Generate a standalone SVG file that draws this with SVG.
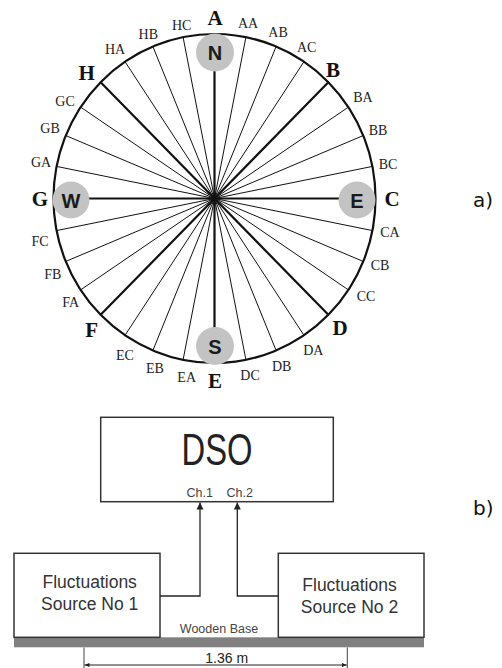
<svg xmlns="http://www.w3.org/2000/svg" width="502" height="668" viewBox="0 0 502 668">
<style>
.lbl{font-family:"Liberation Serif",serif;font-size:14px;fill:#222;text-anchor:middle}
.maj{font-family:"Liberation Serif",serif;font-size:21px;font-weight:bold;fill:#111;text-anchor:middle}
.mk{fill:#c3c3c3;stroke:none}
.mkt{font-family:"Liberation Sans",Arial,sans-serif;font-size:20px;font-weight:bold;fill:#1a1a1a;text-anchor:middle}
.thin{stroke:#111;stroke-width:1;fill:none}
.thick{stroke:#111;stroke-width:2.2;fill:none}
.box{fill:#fff;stroke:#333;stroke-width:1.5}
.sans{font-family:"Liberation Sans",Arial,sans-serif;fill:#222;text-anchor:middle}
.wire{stroke:#222;stroke-width:1.3;fill:none}
.tag{font-family:"DejaVu Sans",sans-serif;font-size:20px;fill:#111}
</style>
<defs>
<marker id="ah" viewBox="0 0 10 10" refX="10" refY="5" markerWidth="7" markerHeight="8" markerUnits="userSpaceOnUse" orient="auto"><path d="M0,0 L10,5 L0,10 z" fill="#222"/></marker>
<marker id="dh" viewBox="0 0 10 10" refX="10" refY="5" markerWidth="5" markerHeight="5" markerUnits="userSpaceOnUse" orient="auto-start-reverse"><path d="M0,1 L10,5 L0,9 z" fill="#222"/></marker>
</defs>
<rect width="502" height="668" fill="#fff"/>

<g id="rose-connectors">
<path class="thin" d="M214.5,198.5 L245.91,37.16 M214.5,198.5 L276.11,46.52 M214.5,198.5 L303.95,61.72
M214.5,198.5 L348.37,107.11 M214.5,198.5 L363.24,135.55 M214.5,198.5 L372.41,166.41
M214.5,198.5 L372.41,230.59 M214.5,198.5 L363.24,261.45 M214.5,198.5 L348.37,289.89
M214.5,198.5 L303.95,335.28 M214.5,198.5 L276.11,350.48 M214.5,198.5 L245.91,359.84
M214.5,198.5 L183.09,359.84 M214.5,198.5 L152.89,350.48 M214.5,198.5 L125.05,335.28
M214.5,198.5 L80.63,289.89 M214.5,198.5 L65.76,261.45 M214.5,198.5 L56.59,230.59
M214.5,198.5 L56.59,166.41 M214.5,198.5 L65.76,135.55 M214.5,198.5 L80.63,107.11
M214.5,198.5 L125.05,61.72 M214.5,198.5 L152.89,46.52 M214.5,198.5 L183.09,37.16"/>
<path class="thick" d="M214.5,198.5 L214.5,40 M214.5,198.5 L328.34,82.18 M214.5,198.5 L370,198.5 M214.5,198.5 L328.34,314.82 M214.5,198.5 L214.5,355 M214.5,198.5 L100.66,314.82 M214.5,198.5 L60,198.5 M214.5,198.5 L100.66,82.18"/>
<ellipse cx="214.5" cy="198.5" rx="161" ry="164.5" fill="none" stroke="#111" stroke-width="2.2"/>
</g>

<g id="marker-N"><circle class="mk" cx="215" cy="52.5" r="19"/><text class="mkt" x="215" y="60">N</text></g>
<g id="marker-E"><circle class="mk" cx="357" cy="200" r="18.5"/><text class="mkt" x="357" y="207.5">E</text></g>
<g id="marker-S"><circle class="mk" cx="215" cy="346" r="19"/><text class="mkt" x="215" y="353.5">S</text></g>
<g id="marker-W"><circle class="mk" cx="71" cy="200" r="18.5"/><text class="mkt" x="71" y="207.5">W</text></g>

<g id="rose-labels">
<text class="maj" x="215" y="25">A</text>
<text class="lbl" x="248" y="27.5">AA</text>
<text class="lbl" x="278" y="36.5">AB</text>
<text class="lbl" x="306.7" y="52">AC</text>
<text class="maj" x="333" y="77">B</text>
<text class="lbl" x="363" y="102">BA</text>
<text class="lbl" x="378" y="134.5">BB</text>
<text class="lbl" x="388" y="168.5">BC</text>
<text class="maj" x="392" y="206">C</text>
<text class="lbl" x="390" y="237">CA</text>
<text class="lbl" x="380" y="269.5">CB</text>
<text class="lbl" x="366" y="300.5">CC</text>
<text class="maj" x="340" y="335">D</text>
<text class="lbl" x="313.3" y="354.5">DA</text>
<text class="lbl" x="281.7" y="370.5">DB</text>
<text class="lbl" x="250" y="379.5">DC</text>
<text class="maj" x="215" y="388">E</text>
<text class="lbl" x="186.7" y="382">EA</text>
<text class="lbl" x="155" y="373">EB</text>
<text class="lbl" x="125" y="359.5">EC</text>
<text class="maj" x="91.7" y="337">F</text>
<text class="lbl" x="70.7" y="307">FA</text>
<text class="lbl" x="52.7" y="278.5">FB</text>
<text class="lbl" x="40" y="245.5">FC</text>
<text class="maj" x="40" y="206">G</text>
<text class="lbl" x="41" y="166.5">GA</text>
<text class="lbl" x="50" y="132.5">GB</text>
<text class="lbl" x="65" y="106">GC</text>
<text class="maj" x="86.7" y="80">H</text>
<text class="lbl" x="115" y="54">HA</text>
<text class="lbl" x="148.3" y="39">HB</text>
<text class="lbl" x="181.7" y="29.5">HC</text>
</g>

<g id="tag-a"><text class="tag" x="473" y="206.5">a)</text></g>
<g id="tag-b"><text class="tag" x="473" y="515">b)</text></g>

<g id="dso">
<rect class="box" x="100.7" y="417.3" width="232.6" height="84.4"/>
<text x="217" y="465" font-family="'Liberation Sans Narrow','Liberation Sans',Arial,sans-serif" font-size="44" fill="#222" text-anchor="middle" textLength="71" lengthAdjust="spacingAndGlyphs">DSO</text>
<text class="sans" x="199.7" y="496.7" font-size="12.5" fill="#444" style="fill:#444">Ch.1</text>
<text class="sans" x="239.7" y="496.7" font-size="12.5" style="fill:#444">Ch.2</text>
</g>

<g id="base">
<rect x="14" y="637.3" width="410" height="10" fill="#808080"/>
<text class="sans" x="219" y="633.3" font-size="12.5" style="fill:#444">Wooden Base</text>
</g>

<g id="source1">
<rect class="box" x="14" y="553.3" width="146" height="84"/>
<text class="sans" x="89.7" y="587.7" font-size="17.5" style="fill:#333">Fluctuations</text>
<text class="sans" x="89.7" y="610" font-size="17.5" style="fill:#333">Source No 1</text>
</g>

<g id="source2">
<rect class="box" x="278.3" y="553.3" width="145.7" height="84"/>
<text class="sans" x="349.5" y="591" font-size="17.5" style="fill:#333">Fluctuations</text>
<text class="sans" x="349.5" y="613.3" font-size="17.5" style="fill:#333">Source No 2</text>
</g>

<g id="connectors">
<path class="wire" d="M160,596 L200,596 L200,502.5" marker-end="url(#ah)"/>
<path class="wire" d="M278.3,596 L237.3,596 L237.3,502.5" marker-end="url(#ah)"/>
</g>

<g id="dimension">
<path stroke="#444" stroke-width="1" fill="none" d="M84,647.5 V668 M347.3,647.5 V668"/>
<path stroke="#222" stroke-width="1" fill="none" d="M84.5,665 H346.8" marker-start="url(#dh)" marker-end="url(#dh)"/>
<text class="sans" x="226.7" y="662.7" font-size="14">1.36 m</text>
</g>
</svg>
